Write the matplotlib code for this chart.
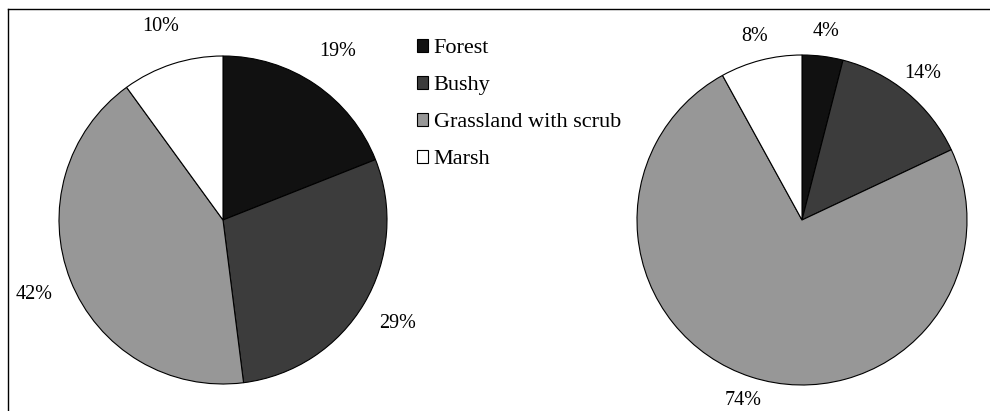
import matplotlib

matplotlib.use("Agg")
import matplotlib.pyplot as plt
from matplotlib.lines import Line2D
from matplotlib.patches import Patch

plt.rcParams["font.family"] = ["Liberation Serif", "DejaVu Serif"]

categories = ["Forest", "Bushy", "Grassland with scrub", "Marsh"]
left_values = [19, 29, 42, 10]
right_values = [4, 14, 74, 8]
colors = ["#111111", "#3c3c3c", "#979797", "#ffffff"]

W, H = 990, 411
fig = plt.figure(figsize=(W / 100, H / 100), dpi=100)


def pie_axes(cx, cy, r):
    """Axes whose ±1 data box sits on a circle of radius r px at (cx, cy)."""
    ax = fig.add_axes([(cx - r) / W, (H - cy - r) / H, 2 * r / W, 2 * r / H])
    return ax


def draw_pie(ax, values, pctdist):
    wedges, _, autotexts = ax.pie(
        values,
        colors=colors,
        startangle=90,
        counterclock=False,
        autopct=lambda p: f"{p:.0f}%",
        pctdistance=pctdist,
        wedgeprops=dict(edgecolor="black", linewidth=0.8),
        textprops=dict(fontsize=14.5, color="black"),
    )
    ax.set_xlim(-1, 1)
    ax.set_ylim(-1, 1)
    ax.set_aspect("equal")
    return wedges


ax1 = pie_axes(223, 220, 164)
draw_pie(ax1, left_values, 1.24)

ax2 = pie_axes(802, 220, 165)
draw_pie(ax2, right_values, 1.15)

handles = [Patch(facecolor=c, edgecolor="black", linewidth=0.8) for c in colors]
fig.legend(
    handles,
    categories,
    loc="upper left",
    bbox_to_anchor=(408 / W, 1 - 30 / H),
    frameon=False,
    fontsize=16,
    handlelength=0.5,
    handleheight=0.5,
    handletextpad=0.25,
    labelspacing=0.8,
    borderaxespad=0,
)

# outer frame (top and left edges)
fig.add_artist(Line2D([8 / W, 1], [1 - 9 / H, 1 - 9 / H], color="black", linewidth=1.0))
fig.add_artist(Line2D([8 / W, 8 / W], [0, 1 - 9 / H], color="black", linewidth=1.0))

fig.savefig("out.png", dpi=100)
